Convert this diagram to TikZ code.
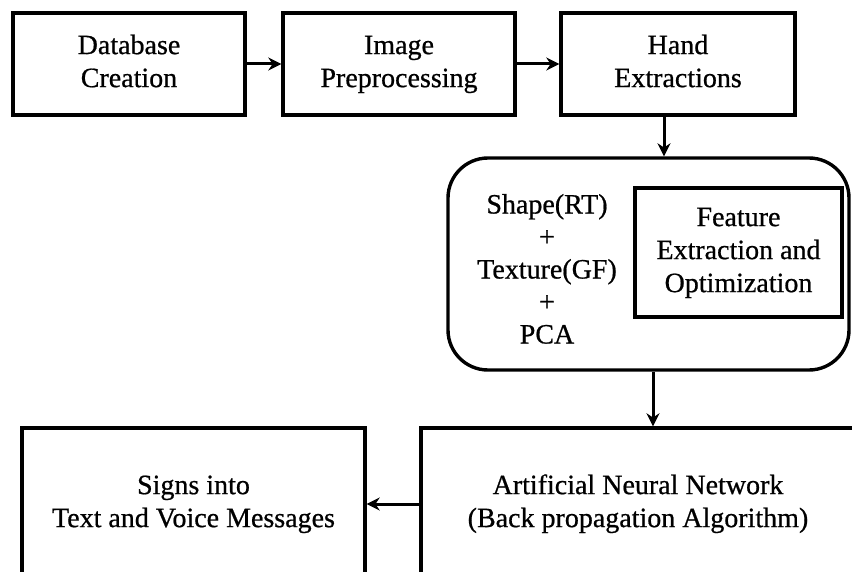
\documentclass[tikz,border=0pt]{standalone}
\usepackage{fontspec}
\setmainfont{Liberation Serif}[FakeBold=0.7]
\usetikzlibrary{arrows.meta,positioning,calc}
\begin{document}
\begin{tikzpicture}[x=1pt,y=-1pt,
  every node/.style={font=\fontsize{28}{33}\selectfont, align=center, inner sep=0pt},
  box/.style={draw, line width=3.4pt, minimum width=#1, minimum height=102pt},
  bigbox/.style={draw, line width=3.4pt, minimum width=#1, minimum height=152pt},
  arr/.style={line width=3pt, -{Stealth[length=13pt,width=13pt]}}]
\useasboundingbox (0,0) rectangle (852,572);
\clip (0,0) rectangle (852,572);
\node[box=232pt] (db) at (129,64) {Database\strut\\Creation\strut};
\node[box=232pt] (ip) at (399,64) {Image\strut\\Preprocessing\strut};
\node[box=234pt] (he) at (678,64) {Hand\strut\\Extractions\strut};
\node[draw, line width=3.4pt, rounded corners=40pt, minimum width=401pt, minimum height=212pt] (fe) at (648.5,264) {};
\node[draw, line width=3.4pt, minimum width=207pt, minimum height=129pt] (fx) at (738.5,252.5) {Feature\strut\\Extraction and\strut\\Optimization\strut};
\node[font=\fontsize{28}{32.5}\selectfont] (st) at (547,272) {Shape(RT)\strut\\+\strut\\Texture(GF)\strut\\+\strut\\PCA\strut};
\node[bigbox=434pt] (ann) at (638,504) {Artificial Neural Network\strut\\(Back propagation Algorithm)\strut};
\node[bigbox=343pt] (sg) at (193.5,504) {Signs into\strut\\Text and Voice Messages\strut};
\draw[arr] (db.east) -- (ip.west);
\draw[arr] (ip.east) -- (he.west);
\draw[arr] ([xshift=-14pt]he.south) -- ([xshift=-14pt]he.south |- fe.north);
\draw[arr] ([xshift=4.5pt]fe.south) -- ([xshift=4.5pt]fe.south |- ann.north);
\draw[arr] (ann.west) -- (sg.east);
\end{tikzpicture}
\end{document}
